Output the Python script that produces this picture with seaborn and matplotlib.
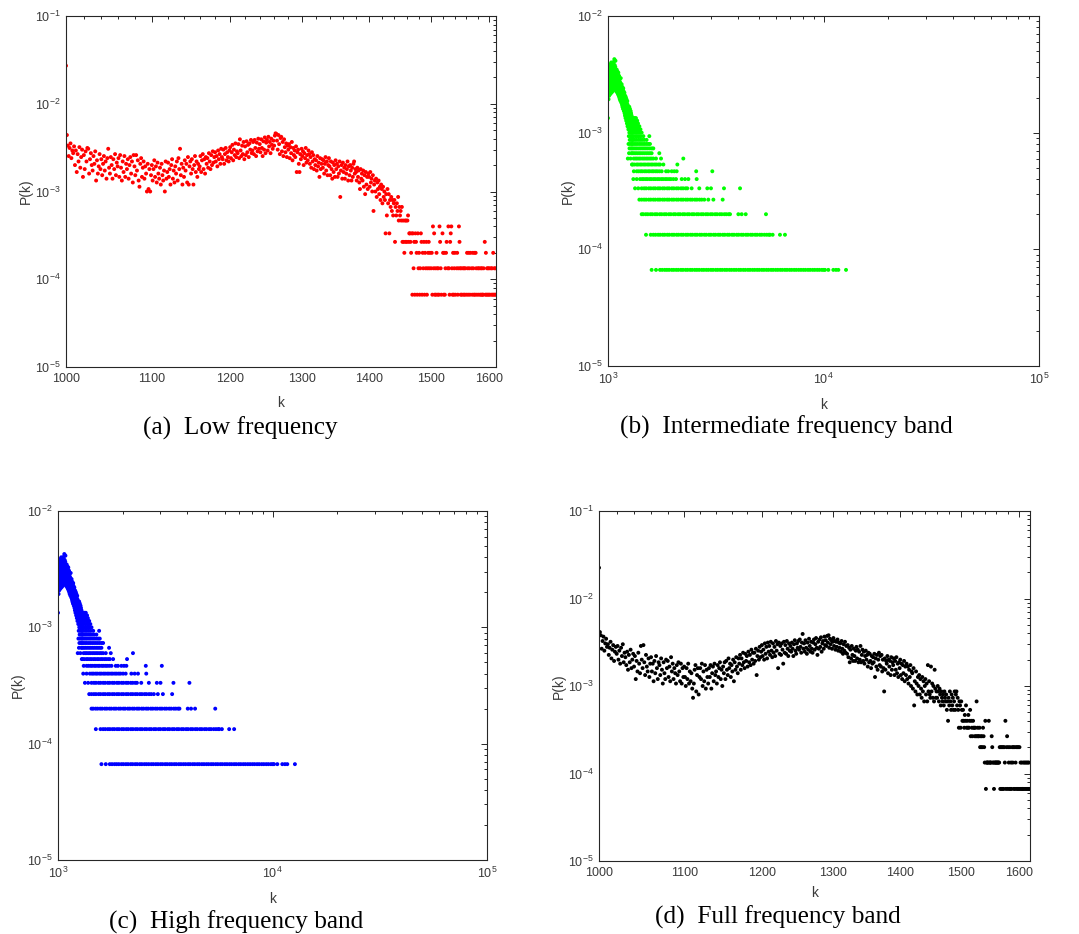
import numpy as np
import pandas as pd
import matplotlib
matplotlib.use("Agg")
import matplotlib.pyplot as plt
import seaborn as sns
from matplotlib.ticker import (FixedLocator, NullFormatter, LogLocator,
                               LogFormatterMathtext, FuncFormatter)

# Degree distribution P(k) = (number of nodes with degree k) / N_NODES
N_NODES = 15000

# ---- Low frequency: node counts for k = 1000, 1001, ... (0 = no node) ----
low_k_start = 1000
low_counts = [
    407, 66, 50, 38, 47, 53, 36, 44, 41, 49,
    30, 44, 25, 40, 33, 48, 28, 37, 45, 22,
    39, 27, 43, 33, 47, 46, 24, 35, 41, 30,
    26, 38, 31, 43, 20, 34, 24, 29, 40, 27,
    35, 23, 31, 38, 26, 33, 21, 36, 46, 28,
    24, 37, 30, 21, 35, 27, 40, 23, 32, 29,
    36, 22, 39, 28, 20, 33, 25, 38, 22, 31,
    27, 35, 21, 30, 37, 24, 33, 19, 39, 29,
    23, 39, 26, 34, 20, 17, 31, 36, 22, 28,
    33, 21, 29, 24, 15, 31, 16, 27, 15, 23,
    30, 20, 27, 34, 22, 29, 19, 32, 24, 21,
    28, 18, 31, 23, 20, 26, 15, 33, 21, 25,
    32, 22, 27, 18, 30, 35, 21, 26, 19, 29,
    24, 33, 20, 36, 27, 46, 23, 31, 18, 28,
    22, 34, 26, 31, 19, 37, 18, 29, 33, 24,
    35, 27, 18, 30, 38, 25, 33, 22, 31, 27,
    29, 38, 25, 34, 40, 27, 35, 24, 37, 31,
    36, 28, 41, 33, 27, 39, 30, 43, 32, 37,
    42, 33, 38, 29, 44, 35, 40, 31, 46, 37,
    35, 45, 31, 40, 47, 34, 42, 37, 33, 44,
    48, 36, 42, 51, 34, 45, 39, 53, 37, 43,
    41, 52, 36, 59, 44, 38, 50, 40, 55, 35,
    49, 39, 56, 42, 51, 37, 53, 45, 58, 41,
    44, 55, 40, 58, 47, 38, 54, 43, 60, 46,
    52, 42, 59, 47, 38, 56, 45, 62, 41, 54,
    58, 44, 63, 49, 55, 41, 60, 51, 46, 57,
    50, 65, 69, 68, 57, 45, 66, 52, 40, 61,
    63, 43, 55, 38, 59, 48, 42, 53, 37, 50,
    45, 52, 36, 48, 41, 55, 34, 47, 39, 44,
    37, 49, 25, 42, 45, 31, 25, 40, 35, 46,
    38, 43, 30, 41, 36, 47, 32, 39, 34, 44,
    40, 31, 37, 28, 42, 33, 39, 27, 35, 30,
    34, 26, 38, 29, 32, 22, 36, 27, 31, 35,
    28, 34, 24, 31, 37, 26, 33, 23, 30, 36,
    29, 23, 33, 27, 21, 32, 25, 30, 22, 34,
    27, 31, 22, 29, 24, 33, 13, 26, 30, 21,
    32, 25, 28, 21, 30, 24, 27, 33, 20, 29,
    23, 30, 26, 20, 28, 22, 31, 33, 24, 27,
    25, 20, 28, 22, 26, 19, 16, 27, 21, 24,
    20, 26, 17, 23, 14, 25, 18, 22, 16, 24,
    22, 17, 25, 19, 21, 15, 23, 9, 18, 20,
    15, 21, 13, 19, 16, 20, 14, 17, 12, 18,
    16, 11, 17, 13, 15, 12, 5, 14, 8, 16,
    11, 14, 5, 12, 10, 13, 9, 12, 8, 11,
    12, 4, 10, 8, 11, 9, 13, 7, 10, 8,
    9, 7, 10, 4, 7, 4, 3, 7, 4, 7,
    4, 7, 8, 4, 5, 5, 4, 3, 5, 1,
    5, 2, 4, 1, 5, 4, 3, 1, 5, 2,
    3, 1, 2, 5, 4, 1, 3, 2, 4, 1,
    3, 2, 4, 1, 2, 3, 4, 2, 3, 0,
    2, 3, 1, 6, 2, 5, 1, 2, 1, 3,
    2, 1, 2, 1, 6, 4, 2, 1, 0, 5,
    3, 1, 3, 1, 2, 3, 4, 0, 2, 6,
    2, 1, 4, 5, 6, 2, 1, 3, 1, 2,
    3, 1, 0, 2, 3, 1, 2, 6, 4, 2,
    1, 2, 1, 0, 2, 1, 2, 1, 2, 0,
    1, 3, 2, 1, 3, 2, 1, 3, 0, 2,
    1, 3, 2, 1, 3, 1, 3, 2, 1, 0,
    2, 1, 2, 0, 1, 2, 1, 2, 1, 1,
    2, 0, 4, 1, 3, 1, 2, 1, 2, 1,
    2, 1, 0, 2, 1, 2, 1, 3, 1, 2,
    1, 2, 1,
]

# ---- Full band: node counts for k = 1000, 1001, ... ----
full_k_start = 1000
full_counts = [
    337, 62, 57, 40, 49, 55, 38, 46, 52, 42,
    45, 34, 41, 48, 31, 39, 44, 29, 37, 42,
    35, 43, 30, 38, 27, 41, 33, 45, 28, 36,
    32, 26, 37, 23, 34, 28, 39, 24, 30, 35,
    25, 33, 18, 29, 22, 36, 27, 21, 43, 30,
    24, 44, 28, 20, 34, 25, 22, 31, 19, 27,
    32, 22, 27, 17, 29, 21, 33, 24, 18, 28,
    26, 20, 31, 23, 16, 28, 21, 18, 30, 24,
    29, 19, 25, 17, 32, 22, 27, 18, 24, 21,
    16, 26, 20, 28, 22, 17, 27, 16, 24, 19,
    25, 19, 15, 24, 18, 27, 16, 22, 17, 21,
    14, 11, 16, 23, 26, 13, 20, 24, 12, 19,
    24, 18, 27, 15, 22, 17, 26, 14, 23, 19,
    16, 24, 19, 26, 14, 21, 25, 17, 27, 20,
    22, 16, 26, 19, 24, 28, 18, 23, 15, 25,
    21, 28, 18, 29, 23, 20, 31, 24, 27, 19,
    26, 22, 30, 17, 28, 23, 32, 25, 21, 31,
    27, 34, 23, 31, 26, 36, 28, 24, 35, 29,
    33, 25, 37, 28, 34, 26, 39, 30, 36, 27,
    36, 29, 40, 20, 33, 38, 30, 42, 32, 37,
    44, 33, 39, 30, 46, 35, 42, 31, 47, 37,
    43, 34, 48, 38, 32, 46, 36, 42, 33, 49,
    38, 45, 24, 47, 35, 43, 34, 46, 39, 27,
    48, 36, 44, 35, 49, 40, 33, 46, 38, 43,
    37, 47, 40, 33, 45, 50, 38, 35, 46, 41,
    49, 39, 51, 42, 36, 47, 59, 40, 46, 37,
    50, 41, 35, 47, 39, 52, 43, 37, 48, 40,
    36, 47, 51, 39, 45, 53, 41, 34, 48, 40,
    51, 42, 54, 37, 46, 49, 40, 55, 44, 50,
    43, 56, 47, 57, 41, 52, 45, 50, 40, 48,
    53, 43, 49, 39, 48, 42, 51, 38, 47, 41,
    46, 37, 49, 40, 35, 45, 38, 48, 36, 43,
    35, 44, 32, 41, 28, 39, 31, 43, 34, 29,
    40, 33, 29, 38, 42, 31, 39, 28, 37, 30,
    43, 28, 34, 39, 29, 37, 27, 33, 38, 30,
    34, 25, 36, 28, 35, 29, 24, 33, 27, 32,
    28, 35, 19, 31, 25, 34, 23, 30, 36, 26,
    33, 25, 34, 22, 30, 24, 13, 31, 23, 29,
    27, 33, 21, 30, 25, 29, 20, 32, 23, 28,
    26, 31, 20, 29, 23, 32, 21, 27, 19, 28,
    24, 30, 20, 27, 18, 26, 21, 29, 17, 25,
    20, 27, 18, 25, 16, 23, 19, 26, 15, 22,
    21, 14, 24, 9, 17, 13, 22, 16, 12, 19,
    15, 20, 12, 18, 14, 11, 19, 13, 17, 10,
    15, 18, 12, 16, 10, 26, 13, 17, 12, 11,
    25, 13, 16, 11, 15, 10, 23, 14, 11, 13,
    11, 15, 13, 10, 14, 12, 9, 13, 11, 10,
    12, 9, 13, 11, 10, 12, 8, 10, 6, 11,
    9, 13, 10, 8, 12, 9, 11, 8, 10, 13,
    8, 12, 13, 9, 11, 8, 5, 10, 9, 5,
    10, 8, 6, 8, 6, 5, 7, 6, 9, 5,
    6, 5, 7, 5, 6, 8, 4, 6, 5, 4,
    6, 5, 5, 4, 5, 4, 10, 4, 5, 4,
    4, 5, 3, 4, 3, 4, 3, 5, 4, 3,
    2, 6, 1, 2, 2, 2, 2, 6, 2, 2,
    2, 2, 4, 3, 2, 2, 1, 2, 2, 2,
    2, 2, 2, 2, 2, 2, 3, 1, 3, 1,
    3, 1, 3, 1, 3, 2, 6, 1, 3, 4,
    1, 3, 2, 1, 3, 1, 2, 1, 3, 2,
    3, 1, 3, 1, 2, 3, 1, 3, 1, 3,
    1, 3, 1, 2, 1, 2, 1, 1, 2, 1,
    2, 1, 2, 1, 2, 1, 2, 1, 2, 1, 1,
]

# ---- Intermediate / high bands (same degree distribution) ----
# counts for k = 1000 ... 1299
band_k_start = 1000
band_core_counts = [
    20, 45, 38, 52, 33, 41, 29, 47, 36, 54,
    42, 31, 49, 38, 56, 44, 35, 51, 40, 46,
    37, 53, 43, 32, 48, 58, 39, 45, 34, 50,
    47, 36, 55, 42, 50, 38, 60, 44, 33, 52,
    41, 49, 37, 57, 45, 35, 53, 43, 48, 39,
    55, 46, 34, 51, 42, 59, 38, 47, 44, 53,
    40, 56, 45, 36, 50, 43, 61, 48, 37, 52,
    64, 44, 49, 39, 57, 46, 35, 53, 42, 50,
    38, 55, 45, 62, 41, 48, 36, 52, 44, 47,
    40, 51, 34, 46, 43, 49, 37, 45, 52, 39,
    44, 36, 48, 41, 33, 46, 39, 50, 35, 42,
    47, 38, 43, 32, 45, 40, 36, 49, 34, 41,
    37, 44, 31, 39, 42, 35, 46, 33, 40, 30,
    38, 43, 34, 36, 29, 41, 37, 32, 39, 35,
    31, 40, 36, 28, 38, 33, 44, 30, 35, 37,
    32, 29, 37, 34, 27, 36, 31, 39, 28, 33,
    35, 30, 26, 33, 29, 37, 31, 25, 34, 28,
    32, 27, 35, 30, 24, 33, 29, 36, 26, 31,
    28, 34, 25, 30, 27, 23, 32, 29, 26, 31,
    24, 29, 33, 27, 22, 30, 26, 28, 25, 21,
    29, 24, 27, 31, 23, 26, 20, 28, 25, 22,
    27, 30, 21, 25, 28, 19, 26, 24, 29, 22,
    25, 20, 27, 23, 18, 26, 22, 24, 19, 28,
    21, 25, 17, 23, 26, 20, 9, 24, 18, 22,
    23, 19, 25, 16, 21, 12, 24, 18, 20, 14,
    22, 17, 10, 21, 19, 25, 15, 20, 11, 23,
    18, 13, 21, 16, 24, 19, 12, 22, 17, 20,
    15, 21, 9, 18, 23, 14, 20, 16, 11, 19,
    22, 13, 17, 20, 10, 18, 15, 21, 12, 16,
    19, 8, 14, 20, 17, 11, 18, 13, 16, 10,
]

# degrees k >= 1300 that carry exactly n nodes (tail_n<n>)
tail_n1 = [1594, 1670, 1743, 1786, 1834, 1876, 1921, 1975, 2019, 2073, 2121,
           2180, 2228, 2290, 2341, 2406, 2460, 2527, 2585, 2649, 2722, 2784,
           2858, 2925, 3004, 3072, 3158, 3229, 3315, 3391, 3482, 3561, 3659,
           3745, 3843, 3935, 4041, 4133, 4245, 4342, 4460, 4562, 4684, 4795,
           4921, 5036, 5172, 5291, 5433, 5559, 5711, 5840, 5996, 6138, 6301,
           6447, 6620, 6771, 6954, 7115, 7306, 7477, 7671, 7862, 8064, 8251,
           8472, 8669, 8899, 9109, 9350, 9572, 9830, 10020, 10160, 10530,
           11110, 11430, 11720, 12720]
tail_n2 = [1501, 1578, 1623, 1662, 1708, 1746, 1794, 1833, 1885, 1926, 1981,
           2024, 2081, 2126, 2186, 2234, 2298, 2347, 2414, 2466, 2536, 2590,
           2665, 2721, 2799, 2858, 2941, 3003, 3090, 3155, 3246, 3314, 3410,
           3482, 3583, 3658, 3764, 3844, 3955, 4039, 4155, 4243, 4366, 4459,
           4587, 4683, 4818, 4921, 5061, 5170, 5318, 5450, 5580, 5646, 5808,
           6280, 6625]
tail_n3 = [1433, 1458, 1497, 1530, 1573, 1607, 1653, 1688, 1737, 1774, 1824,
           1863, 1917, 1958, 2015, 2056, 2116, 2161, 2223, 2270, 2336, 2385,
           2454, 2505, 2578, 2632, 2708, 2766, 2845, 2906, 2989, 3052, 3140,
           3207, 3299, 3371, 3467, 3541, 3630, 3683, 4026, 4171, 4355, 5408]
tail_n4 = [1398, 1433, 1470, 1503, 1545, 1579, 1623, 1659, 1705, 1742, 1791,
           1831, 1882, 1923, 1977, 2020, 2078, 2123, 2183, 2231, 2293, 2343,
           2409, 2462, 2531, 2585, 2658, 2721, 2798, 2921, 3083, 3405]
tail_n5 = [1335, 1382, 1433, 1471, 1503, 1546, 1580, 1624, 1659, 1706, 1742,
           1792, 1830, 1883, 1923, 1978, 2020, 2078, 2122, 2183, 2230, 2290,
           2333, 2444, 2652, 2889, 3005, 3453, 4099]
tail_n6 = [1311, 1359, 1408, 1440, 1466, 1499, 1526, 1562, 1590, 1627, 1658,
           1696, 1728, 1768, 1801, 1843, 1878, 1921, 1958, 2011, 2068, 2198,
           2277, 2360, 2579]
tail_n7 = [1318, 1359, 1387, 1418, 1443, 1476, 1503, 1537, 1563, 1600, 1628,
           1664, 1695, 1733, 1775, 1859, 1903, 1975, 2030, 2083, 2566, 3048]
tail_n8 = [1302, 1326, 1357, 1379, 1409, 1434, 1465, 1491, 1523, 1550, 1584,
           1612, 1647, 1677, 1714, 1744, 1807, 2098]
tail_n9 = [1316, 1341, 1364, 1392, 1417, 1447, 1474, 1504, 1532, 1564, 1592,
           1623, 1670, 1762, 2236]
tail_n10 = [1320, 1343, 1368, 1395, 1421, 1449, 1477, 1507, 1536, 1566, 1594,
            1730]
tail_n11 = [1313, 1337, 1361, 1388, 1414, 1442, 1470, 1499, 1529, 1561, 1595,
            1623]
tail_n12 = [1300, 1323, 1347, 1371, 1398, 1424, 1453, 1481, 1511, 1540, 1566]
tail_n13 = [1306, 1330, 1355, 1383, 1410, 1439, 1472, 1510]
tail_n14 = [1310, 1338, 1363, 1391, 1420, 1459, 1555]
tail_n15 = [1304, 1325, 1351, 1376, 1404, 1433]
tail_n16 = [1319, 1345, 1369, 1393, 1415]
tail_n17 = [1312, 1334, 1358, 1385, 1398]
tail_n18 = [1308, 1328, 1353, 1378]
tail_n19 = [1305, 1322, 1340, 1366]
tail_n20 = [1301, 1315, 1331, 1348]

captions = ["(a)  Low frequency", "(b)  Intermediate frequency band",
            "(c)  High frequency band", "(d)  Full frequency band"]


def dist_from_counts(k_start, counts):
    counts = np.asarray(counts, dtype=float)
    k = k_start + np.arange(len(counts))
    df = pd.DataFrame({"k": k, "P": counts / N_NODES})
    return df[df["P"] > 0]


def band_distribution():
    core = dist_from_counts(band_k_start, band_core_counts)
    tails = [tail_n1, tail_n2, tail_n3, tail_n4, tail_n5, tail_n6, tail_n7,
             tail_n8, tail_n9, tail_n10, tail_n11, tail_n12, tail_n13,
             tail_n14, tail_n15, tail_n16, tail_n17, tail_n18, tail_n19,
             tail_n20]
    parts = [core]
    for n, ks in enumerate(tails, start=1):
        parts.append(pd.DataFrame({"k": ks, "P": n / N_NODES}))
    return pd.concat(parts, ignore_index=True)


sns.set_style("white")
plt.rcParams["font.family"] = ["Liberation Sans", "DejaVu Sans"]
plt.rcParams["mathtext.default"] = "regular"

INK = "#262626"
W, H = 1079, 934
fig = plt.figure(figsize=(W / 100, H / 100), dpi=100)


def add_axes(left, right, top, bottom):
    return fig.add_axes([left / W, 1 - bottom / H, (right - left) / W,
                         (bottom - top) / H])


def style_axes(ax, ylim, xpad=8):
    ax.set_yscale("log")
    ax.set_ylim(*ylim)
    ax.yaxis.set_major_locator(LogLocator(base=10, numticks=10))
    ax.yaxis.set_major_formatter(LogFormatterMathtext())
    ax.yaxis.set_minor_locator(LogLocator(base=10, subs=np.arange(2, 10),
                                          numticks=20))
    ax.yaxis.set_minor_formatter(NullFormatter())
    for sp in ax.spines.values():
        sp.set_visible(True)
        sp.set_color(INK)
        sp.set_linewidth(0.8)
    ax.tick_params(which="both", direction="in", top=True, right=True,
                   color=INK, width=0.7, labelsize=9, labelcolor="#3a3a3a")
    ax.tick_params(which="major", length=4.5, pad=4)
    ax.tick_params(which="minor", length=2.4)
    ax.set_xlabel("k", fontsize=10, color="#3a3a3a", labelpad=xpad)
    ax.set_ylabel("P(k)", fontsize=10, color="#3a3a3a", labelpad=1.5)


def linear_degree_axis(ax, kmax):
    ax.set_xscale("log")
    ax.set_xlim(1000, kmax)
    majors = [1000, 1100, 1200, 1300, 1400, 1500, 1600]
    minors = [v for v in range(1020, int(kmax) + 1, 20) if v % 100]
    ax.xaxis.set_major_locator(FixedLocator(majors))
    ax.xaxis.set_major_formatter(FuncFormatter(lambda v, p: f"{v:.0f}"))
    ax.xaxis.set_minor_locator(FixedLocator(minors))
    ax.xaxis.set_minor_formatter(NullFormatter())


def decade_degree_axis(ax):
    ax.set_xscale("log")
    ax.set_xlim(1e3, 1e5)
    ax.xaxis.set_major_locator(LogLocator(base=10, numticks=10))
    ax.xaxis.set_major_formatter(LogFormatterMathtext())
    ax.xaxis.set_minor_locator(LogLocator(base=10, subs=np.arange(2, 10),
                                          numticks=20))
    ax.xaxis.set_minor_formatter(NullFormatter())


def scatter(ax, df, color):
    sns.scatterplot(data=df, x="k", y="P", ax=ax, color=color, s=8,
                    linewidth=0, edgecolor="none", legend=False)


low_df = dist_from_counts(low_k_start, low_counts)
full_df = dist_from_counts(full_k_start, full_counts)
band_df = band_distribution()

ax_a = add_axes(66, 496, 16, 367)
scatter(ax_a, low_df, "#ff0000")
style_axes(ax_a, (1e-5, 1e-1))
linear_degree_axis(ax_a, 1612)

ax_b = add_axes(608, 1039, 16, 366)
scatter(ax_b, band_df, "#00ff00")
style_axes(ax_b, (1e-5, 1e-2))
decade_degree_axis(ax_b)

ax_c = add_axes(58, 487, 511, 860)
scatter(ax_c, band_df, "#0000ff")
style_axes(ax_c, (1e-5, 1e-2))
decade_degree_axis(ax_c)

ax_d = add_axes(599, 1030, 511, 861)
scatter(ax_d, full_df, "#000000")
style_axes(ax_d, (1e-5, 1e-1), xpad=5.5)
linear_degree_axis(ax_d, 1620)

caption_pos = [(240, 428), (786, 427), (236, 922), (778, 917)]
for text, (cx, cy) in zip(captions, caption_pos):
    fig.text(cx / W, 1 - cy / H, text, ha="center", va="center",
             family=["Liberation Serif", "DejaVu Serif"], fontsize=18.2,
             color="black")

fig.savefig("out.png", dpi=100, facecolor="white")
